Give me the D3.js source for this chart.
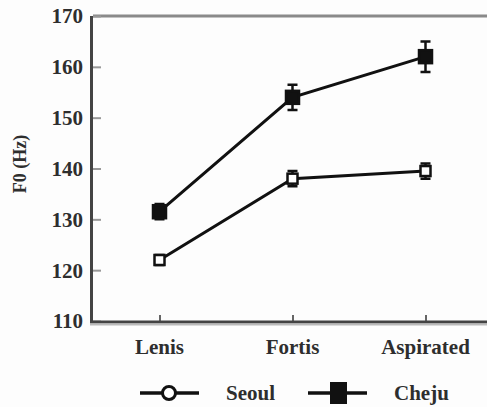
<!DOCTYPE html>
<html>
<head>
<meta charset="utf-8">
<script src="https://cdn.jsdelivr.net/npm/d3@7"></script>
<style>
  body { margin: 0; background: #fdfdfd; }
  svg { display: block; }
  text { font-family: "Liberation Serif", "DejaVu Serif", serif; fill: #2e2e2e; }
</style>
</head>
<body>
<div id="chart"></div>
<script>
// stop categories
const CATEGORIES = ['Lenis', 'Fortis', 'Aspirated']

// mean F0 (Hz) and error bar half-widths
const SEOUL = [122, 138, 139.5]
const SEOUL_ERR = [1, 1.5, 1.5]
const CHEJU = [131.5, 154, 162]
const CHEJU_ERR = [1.5, 2.5, 3]

const Y_TICKS = [110, 120, 130, 140, 150, 160, 170]

const width = 487
const height = 407
const margin = {top: 16, right: -5, bottom: 86, left: 93}

const svg = d3.select('#chart').append('svg')
  .attr('width', width)
  .attr('height', height)

const x = d3.scalePoint()
  .domain(CATEGORIES)
  .range([margin.left, width - margin.right])
  .padding(0.5)

const y = d3.scaleLinear()
  .domain([110, 170])
  .range([height - margin.bottom, margin.top])

// frame: top line, left axis, bottom axis
svg.append('line')
  .attr('x1', margin.left).attr('x2', width)
  .attr('y1', y(170)).attr('y2', y(170))
  .attr('stroke', '#8a8a8a').attr('stroke-width', 3)

const yAxis = svg.append('g')
  .attr('transform', `translate(${margin.left},0)`)
  .call(d3.axisRight(y).tickValues(Y_TICKS).tickSize(8).tickFormat(''))
yAxis.select('.domain').remove()
yAxis.selectAll('.tick line').attr('stroke', '#999').attr('stroke-width', 2)

svg.selectAll('.ylab')
  .data(Y_TICKS)
  .join('text')
  .attr('class', 'ylab')
  .attr('x', 83)
  .attr('y', d => y(d))
  .attr('dy', '0.35em')
  .attr('text-anchor', 'end')
  .attr('font-size', 21)
  .attr('font-weight', 'bold')
  .text(d => d)

const xAxis = svg.append('g')
  .attr('transform', `translate(0,${y(110)})`)
  .call(d3.axisTop(x).tickSize(6).tickFormat(''))
xAxis.select('.domain').remove()
xAxis.selectAll('.tick line').attr('stroke', '#333').attr('stroke-width', 1.5)

svg.selectAll('.xlab')
  .data(CATEGORIES)
  .join('text')
  .attr('class', 'xlab')
  .attr('x', d => x(d))
  .attr('y', 354)
  .attr('text-anchor', 'middle')
  .attr('font-size', 21)
  .attr('font-weight', 'bold')
  .text(d => d)

svg.append('line')
  .attr('x1', margin.left - 1.5).attr('x2', margin.left - 1.5)
  .attr('y1', y(170)).attr('y2', y(110) + 2)
  .attr('stroke', '#444').attr('stroke-width', 3)
svg.append('line')
  .attr('x1', margin.left - 3).attr('x2', width)
  .attr('y1', y(110) + 1).attr('y2', y(110) + 1)
  .attr('stroke', '#444').attr('stroke-width', 3)
svg.append('line')
  .attr('x1', margin.left - 3).attr('x2', width)
  .attr('y1', y(110) + 3.5).attr('y2', y(110) + 3.5)
  .attr('stroke', '#bbb').attr('stroke-width', 2)

svg.append('text')
  .attr('transform', `translate(26,164) rotate(-90)`)
  .attr('text-anchor', 'middle')
  .attr('font-size', 18)
  .attr('font-weight', 'bold')
  .text('F0 (Hz)')

// series
const line = d3.line()
  .x((d, i) => x(CATEGORIES[i]))
  .y(d => y(d))

const drawSeries = (values, errs, filled, size) => {
  const g = svg.append('g')
  g.append('path')
    .datum(values)
    .attr('d', line)
    .attr('fill', 'none')
    .attr('stroke', '#111')
    .attr('stroke-width', 3)

  const pts = values.map((v, i) => ({cat: CATEGORIES[i], v, e: errs[i]}))

  g.selectAll('.err')
    .data(pts)
    .join('path')
    .attr('class', 'err')
    .attr('d', d => {
      const cx = x(d.cat)
      const top = y(d.v + d.e)
      const bot = y(d.v - d.e)
      return `M${cx},${top}V${bot}M${cx - 5},${top}H${cx + 5}M${cx - 5},${bot}H${cx + 5}`
    })
    .attr('fill', 'none')
    .attr('stroke', '#111')
    .attr('stroke-width', 2.5)

  g.selectAll('.pt')
    .data(pts)
    .join('rect')
    .attr('class', 'pt')
    .attr('x', d => x(d.cat) - size / 2)
    .attr('y', d => y(d.v) - size / 2)
    .attr('width', size)
    .attr('height', size)
    .attr('fill', filled ? '#111' : '#fff')
    .attr('stroke', '#111')
    .attr('stroke-width', 2.5)
}

drawSeries(SEOUL, SEOUL_ERR, false, 10)
drawSeries(CHEJU, CHEJU_ERR, true, 13)

// legend
const legend = svg.append('g').attr('transform', 'translate(0,393)')
legend.append('line')
  .attr('x1', 140).attr('x2', 199)
  .attr('stroke', '#111').attr('stroke-width', 3.5)
legend.append('circle')
  .attr('cx', 169).attr('r', 6.5)
  .attr('fill', '#fff').attr('stroke', '#111').attr('stroke-width', 3)
legend.append('text')
  .attr('x', 226).attr('dy', '0.35em')
  .attr('font-size', 21).attr('font-weight', 'bold')
  .text('Seoul')
legend.append('line')
  .attr('x1', 308).attr('x2', 367)
  .attr('stroke', '#111').attr('stroke-width', 3.5)
legend.append('rect')
  .attr('x', 330).attr('y', -11).attr('width', 17).attr('height', 22)
  .attr('fill', '#111')
legend.append('text')
  .attr('x', 394).attr('dy', '0.35em')
  .attr('font-size', 21).attr('font-weight', 'bold')
  .text('Cheju')
</script>
</body>
</html>
